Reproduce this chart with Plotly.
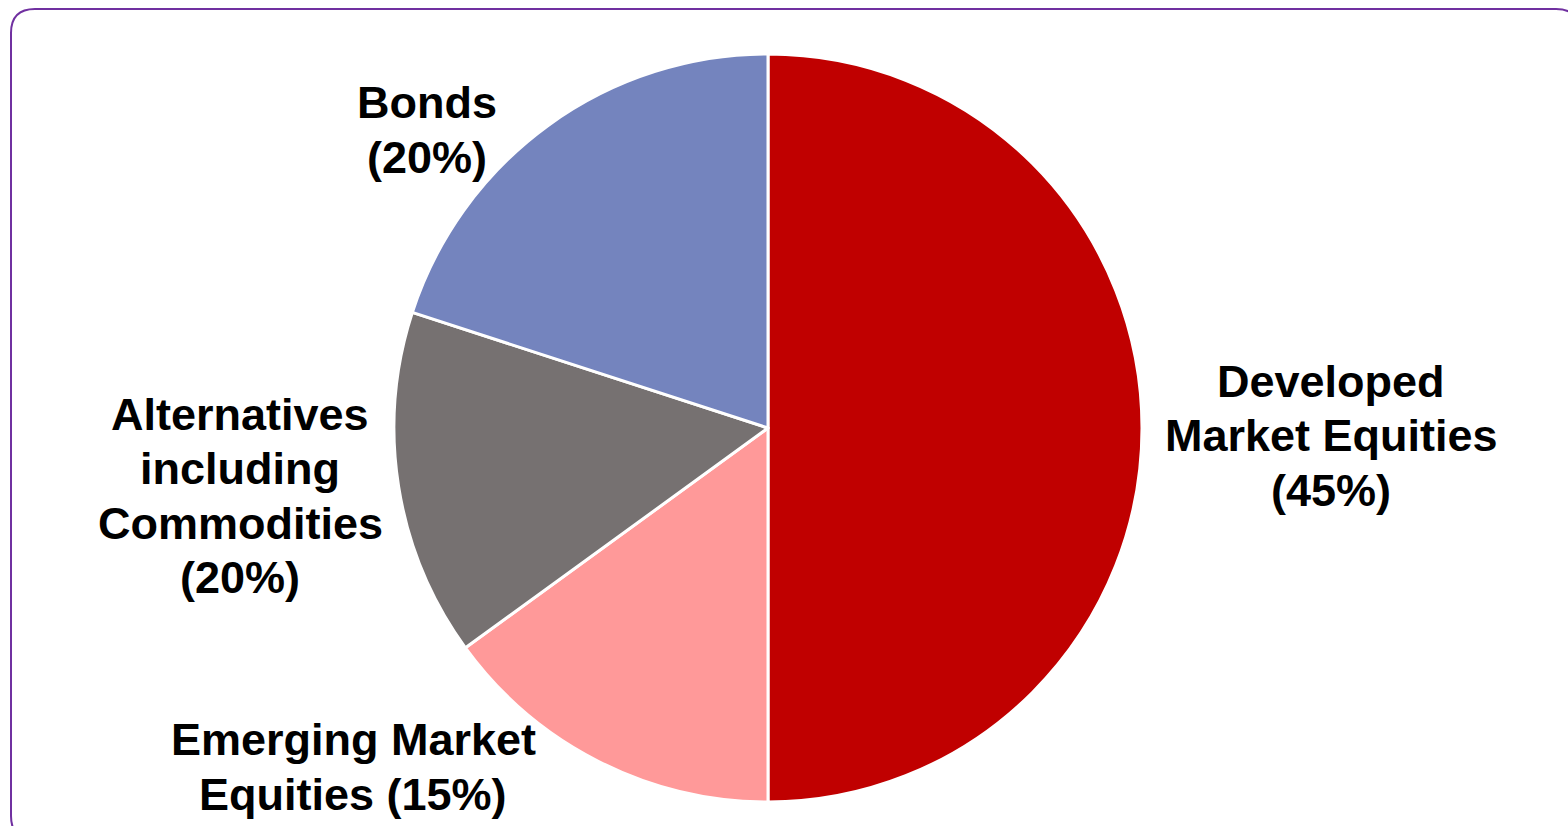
import plotly.graph_objects as go

W, H = 1568, 826

# Data (slice sizes as drawn; label text as printed)
categories = ["Developed Market Equities", "Emerging Market Equities",
              "Alternatives including Commodities", "Bonds"]
slice_values = [50, 15, 15, 20]
label_lines = [["Developed", "Market Equities", "(45%)"],
               ["Emerging Market", "Equities (15%)"],
               ["Alternatives", "including", "Commodities", "(20%)"],
               ["Bonds", "(20%)"]]
colors = ["#C00000", "#FF9999", "#767171", "#7484BE"]

# label block centres in pixels
label_pos = [(1331, 436), (353, 767), (240, 496), (427, 130)]
LINE_H = 54.5

cx, cy, r = 768, 428, 374

fig = go.Figure(go.Pie(
    labels=categories,
    values=slice_values,
    sort=False,
    direction="clockwise",
    rotation=0,
    marker=dict(colors=colors, line=dict(color="white", width=3)),
    textinfo="none",
    hoverinfo="label",
    showlegend=False,
    domain=dict(x=[(cx - r) / W, (cx + r) / W],
                y=[(H - (cy + r)) / H, (H - (cy - r)) / H]),
))

for lines, (px, py) in zip(label_lines, label_pos):
    n = len(lines)
    for i, line in enumerate(lines):
        ly = py + (i - (n - 1) / 2) * LINE_H
        fig.add_annotation(
            x=px / W, y=1 - ly / H, xref="paper", yref="paper",
            text=line, showarrow=False, align="center",
            xanchor="center", yanchor="middle",
            font=dict(family="Liberation Sans, Arial, sans-serif", size=45,
                      color="black", weight="bold"),
        )

def P(x, y):
    return f"{x / W:.5f},{1 - y / H:.5f}"

x0, y0, x1, y1, rad = 11, 9, 1580, 840, 24
path = (f"M {P(x0 + rad, y0)} L {P(x1 - rad, y0)} Q {P(x1, y0)} {P(x1, y0 + rad)} "
        f"L {P(x1, y1 - rad)} Q {P(x1, y1)} {P(x1 - rad, y1)} "
        f"L {P(x0 + rad, y1)} Q {P(x0, y1)} {P(x0, y1 - rad)} "
        f"L {P(x0, y0 + rad)} Q {P(x0, y0)} {P(x0 + rad, y0)} Z")
fig.add_shape(type="path", path=path, xref="paper", yref="paper",
              line=dict(color="#7030A0", width=2), layer="below")

fig.update_layout(
    width=W, height=H,
    margin=dict(l=0, r=0, t=0, b=0),
    paper_bgcolor="white", plot_bgcolor="white",
)

fig.write_html("out.html",
               config={"displayModeBar": False},
               post_script="document.body.style.margin='0';"
                           "document.body.style.overflow='hidden';")
